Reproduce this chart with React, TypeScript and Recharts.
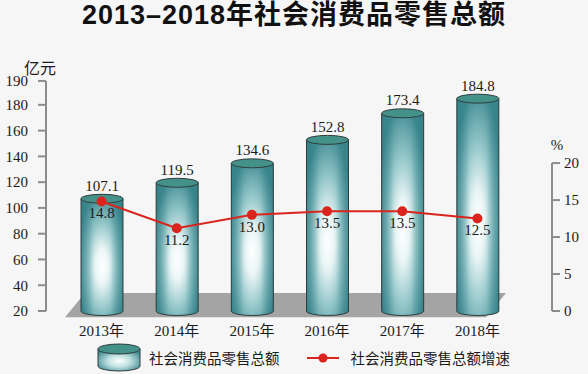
import React from "react";
import {
  Bar,
  ComposedChart,
  LabelList,
  Line,
  ReferenceArea,
  XAxis,
  YAxis,
} from "recharts";

const years = ["2013年", "2014年", "2015年", "2016年", "2017年", "2018年"];
const totals = [107.1, 119.5, 134.6, 152.8, 173.4, 184.8];
const growth = [14.8, 11.2, 13.0, 13.5, 13.5, 12.5];
const leftTicks = [20, 40, 60, 80, 100, 120, 140, 160, 180, 190];
const rightTicks = [0, 5, 10, 15, 20];

const data = years.map((year, i) => ({
  year,
  total: totals[i],
  growth: growth[i],
}));

const serif = '"Liberation Serif", "DejaVu Serif", "Noto Sans CJK SC", serif';
const cjk = '"Noto Sans CJK SC", "Noto Sans", sans-serif';
const axisGray = "#8c8c8c";
const lineRed = "#d9251d";

// the original axis has a break: top tick (190) sits further up than a linear scale puts it
function LeftTick(props: any) {
  const { x, y, payload, index, visibleTicksCount } = props;
  const shift = index === visibleTicksCount - 1 ? -11 : 0;
  return (
    <g>
      <line x1={x + 10} x2={x + 18} y1={y + shift} y2={y + shift} stroke={axisGray} strokeWidth={2} />
      <text
        x={x}
        y={y + shift}
        dy="0.355em"
        textAnchor="end"
        fill="#1a1a1a"
        fontSize={15}
        fontFamily={serif}
      >
        {payload.value}
      </text>
    </g>
  );
}

function Cylinder(props: any) {
  const { x, y, width, height } = props;
  if (width == null || height == null) return null;
  const rx = width / 2;
  const ry = 4.5;
  const bottom = y + height;
  const body = `M${x},${y} L${x},${bottom} A${rx},${ry} 0 0 0 ${x + width},${bottom} L${x + width},${y} Z`;
  return (
    <g>
      <path d={body} fill="url(#cylBody)" />
      <path d={body} fill="url(#cylEdge)" stroke="#2f3c3c" strokeWidth={1} />
      <ellipse cx={x + rx} cy={y} rx={rx} ry={ry} fill="#44918a" stroke="#2f3c3c" strokeWidth={1} />
    </g>
  );
}

function Floor(props: any) {
  const { x, y, width, height } = props;
  const pts = [
    [x + 21, y],
    [x + width - 9, y],
    [x + width - 29, y + height],
    [x + 1, y + height],
  ]
    .map((p) => p.join(","))
    .join(" ");
  return <polygon points={pts} fill="#a4a4a4" />;
}

function LegendCylinder() {
  return (
    <svg width={44} height={31}>
      <defs>
        <radialGradient id="legBody" cx="0.5" cy="0.55" r="0.6">
          <stop offset="0%" stopColor="#ffffff" />
          <stop offset="45%" stopColor="#bfe0e1" />
          <stop offset="100%" stopColor="#3f8a91" />
        </radialGradient>
      </defs>
      <path d="M1,7 L1,24 A21,5 0 0 0 43,24 L43,7 Z" fill="url(#legBody)" stroke="#2f3c3c" />
      <ellipse cx={22} cy={7} rx={21} ry={5} fill="#44918a" stroke="#2f3c3c" />
    </svg>
  );
}

export default function App() {
  return (
    <div
      style={{
        position: "fixed",
        left: 0,
        top: 0,
        width: 588,
        height: 374,
        background: "#f6f6f6",
        overflow: "hidden",
      }}
    >
      <div
        style={{
          position: "absolute",
          top: -1,
          left: 0,
          width: 588,
          textAlign: "center",
          fontFamily: '"Liberation Sans", "Noto Sans CJK SC", sans-serif',
          fontWeight: 700,
          fontSize: 27,
          lineHeight: "32px",
          color: "#111",
          letterSpacing: 1,
        }}
      >
        2013–2018年社会消费品零售总额
      </div>

      <ComposedChart
        width={588}
        height={374}
        data={data}
        margin={{ top: 81, right: 0, left: 0, bottom: 33 }}
        style={{ position: "absolute", left: 0, top: 0 }}
      >
        <defs>
          <radialGradient id="cylBody" cx="0.5" cy="0.58" r="0.62">
            <stop offset="0%" stopColor="#ffffff" />
            <stop offset="25%" stopColor="#eaf5f5" />
            <stop offset="60%" stopColor="#93c6c9" />
            <stop offset="100%" stopColor="#3f8a91" />
          </radialGradient>
          <linearGradient id="cylEdge" x1="0" y1="0" x2="1" y2="0">
            <stop offset="0%" stopColor="#2f7c84" stopOpacity={0.55} />
            <stop offset="30%" stopColor="#2f7c84" stopOpacity={0} />
            <stop offset="70%" stopColor="#2f7c84" stopOpacity={0} />
            <stop offset="100%" stopColor="#2f7c84" stopOpacity={0.55} />
          </linearGradient>
        </defs>
        <XAxis
          dataKey="year"
          axisLine={false}
          tickLine={false}
          tickMargin={8}
          height={30}
          padding={{ left: 18, right: 37 }}
          tick={{ fill: "#1a1a1a", fontSize: 15, fontFamily: serif }}
        />
        <YAxis
          yAxisId="left"
          domain={[20, 198.5]}
          ticks={leftTicks}
          interval={0}
          width={46}
          tickSize={8}
          tickMargin={10}
          axisLine={{ stroke: axisGray, strokeWidth: 2 }}
          tickLine={false}
          tick={<LeftTick />}
          label={{
            value: "亿元",
            position: "top",
            offset: 7,
            dx: 17,
            fill: "#1a1a1a",
            fontSize: 16,
            fontFamily: cjk,
          }}
        />
        <YAxis
          yAxisId="right"
          orientation="right"
          domain={[0, 31.1]}
          ticks={rightTicks}
          interval={0}
          width={36}
          tickSize={8}
          tickMargin={4}
          axisLine={{ stroke: axisGray, strokeWidth: 2, strokeDasharray: "0 82 148 0" }}
          tickLine={{ stroke: axisGray, strokeWidth: 2 }}
          tick={{ fill: "#1a1a1a", fontSize: 15, fontFamily: serif }}
          label={{
            value: "%",
            position: "top",
            offset: -69,
            dx: -13,
            fill: "#1a1a1a",
            fontSize: 15,
            fontFamily: serif,
          }}
        />
        <ReferenceArea
          yAxisId="left"
          y1={15.2}
          y2={34}
          ifOverflow="visible"
          shape={<Floor />}
        />
        <Bar
          yAxisId="left"
          dataKey="total"
          barSize={42}
          shape={<Cylinder />}
          isAnimationActive={false}
        >
          <LabelList
            dataKey="total"
            position="top"
            offset={8}
            fill="#1a1a1a"
            fontSize={15}
            fontFamily={serif}
          />
        </Bar>
        <Line
          yAxisId="right"
          dataKey="growth"
          type="linear"
          stroke={lineRed}
          strokeWidth={2}
          dot={{ r: 5, fill: lineRed, stroke: "none" }}
          isAnimationActive={false}
        >
          <LabelList
            dataKey="growth"
            position="bottom"
            offset={6}
            fill="#1a1a1a"
            fontSize={15}
            fontFamily={serif}
            formatter={(v: any) => Number(v).toFixed(1)}
          />
        </Line>
      </ComposedChart>

      <div
        style={{
          position: "absolute",
          left: 97,
          top: 342,
          display: "flex",
          alignItems: "center",
          fontFamily: cjk,
          fontSize: 14.5,
          color: "#1a1a1a",
        }}
      >
        <LegendCylinder />
        <span style={{ marginLeft: 8 }}>社会消费品零售总额</span>
        <svg width={32} height={12} style={{ marginLeft: 27 }}>
          <line x1={0} y1={6} x2={32} y2={6} stroke={lineRed} strokeWidth={2} />
          <circle cx={16} cy={6} r={4.5} fill={lineRed} />
        </svg>
        <span style={{ marginLeft: 12 }}>社会消费品零售总额增速</span>
      </div>
    </div>
  );
}
